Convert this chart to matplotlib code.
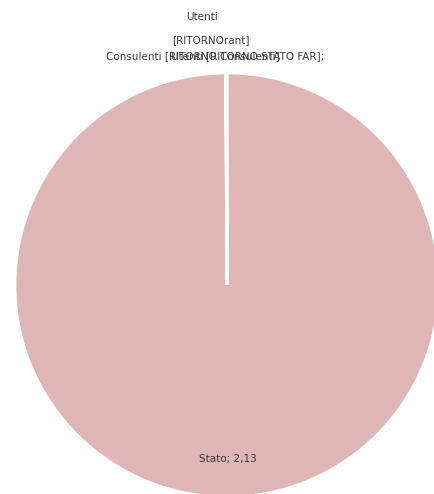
import numpy as np
import matplotlib.pyplot as plt

# dati del grafico
categorie = ["Stato", "Utenti [RITORNO Utenti]", "Utenti [RITORNO Consulenti]",
             "Consulenti [RITORNO STATO]", "Consulenti [RITORNO FAR]"]
valori = [2.13, 0.0006, 0.0006, 0.0006, 0.0006]
etichette = ["Stato; 2,13",
             "Utenti",
             "[RITORNOrant]",
             "Consulenti [RITORNO Consulenti]",
             "Utenti [RITORNO STATO FAR];"]
colore = "#ddb6b5"

fig = plt.figure(figsize=(4.35, 4.94), dpi=100)
W, H = 435, 494
cx, cy, r = 227, 285, 212
ax = fig.add_axes([(cx - r) / W, (H - cy - r) / H, 2 * r / W, 2 * r / H])

wedges, _ = ax.pie(valori, colors=[colore] * len(valori), startangle=90,
                   counterclock=False,
                   wedgeprops=dict(edgecolor="white", linewidth=2))
ax.set_xlim(-1, 1)
ax.set_ylim(-1, 1)
ax.axis("off")

# etichetta della fetta grande
w = wedges[0]
ang = np.deg2rad((w.theta1 + w.theta2) / 2)
ax.text(0.82 * np.cos(ang), 0.82 * np.sin(ang), etichette[0],
        ha="center", va="center", fontsize=7.5, color="#3a3a3a")

# etichette delle fette piccole (sovrapposte in alto)
raggi = [1.265, 1.155, 1.08, 1.08]
sposta = [-0.11, -0.07, -0.16, 0.1]
for i, (rr, dx) in enumerate(zip(raggi, sposta)):
    w = wedges[i + 1]
    ang = np.deg2rad((w.theta1 + w.theta2) / 2)
    ax.text(rr * np.cos(ang) + dx, rr * np.sin(ang), etichette[i + 1],
            ha="center", va="center", fontsize=7.5, color="#3a3a3a",
            clip_on=False)

fig.savefig("out.png", dpi=100)
